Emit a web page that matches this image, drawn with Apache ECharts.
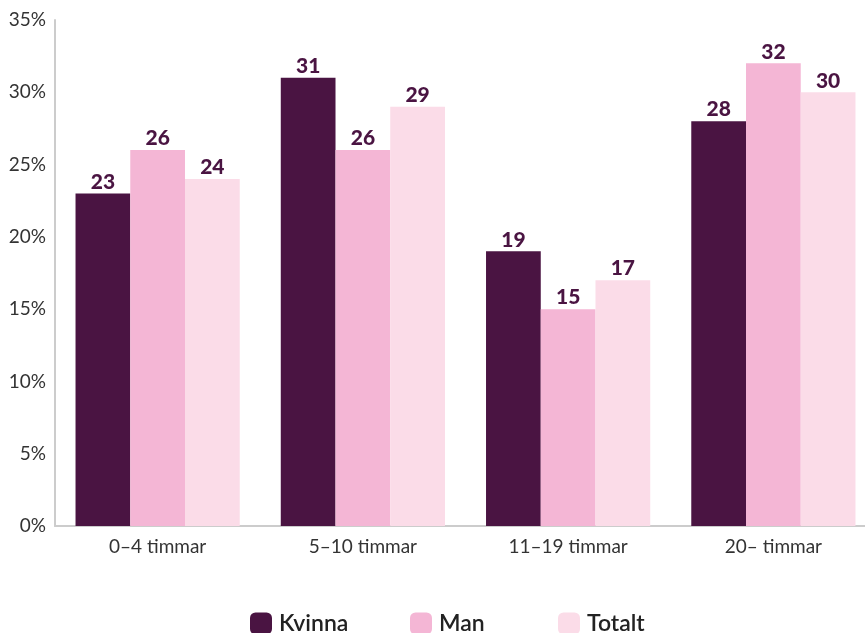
<!DOCTYPE html>
<html><head><meta charset="utf-8">
<script src="https://cdn.jsdelivr.net/npm/echarts@6/dist/echarts.min.js"></script>
<style>html,body{margin:0;padding:0;background:#fff}#c{width:865px;height:633px}</style>
</head><body><div id="c"></div>
<script>
const categories = ['0–4 timmar', '5–10 timmar', '11–19 timmar', '20– timmar'];
const kvinna = [23, 31, 19, 28];
const man = [26, 26, 15, 32];
const totalt = [24, 29, 17, 30];
const seriesNames = ['Kvinna', 'Man', 'Totalt'];
const colors = ['#4a1442', '#f4b6d5', '#fbdce8'];
const legendLefts = [245, 405, 553];
const font = 'Lato, "Open Sans", sans-serif';
const chart = echarts.init(document.getElementById('c'));
const mk = (name, data, color) => ({
  name, type: 'bar', data, barGap: '0%', barCategoryGap: '20%',
  itemStyle: { color },
  label: { show: true, position: 'top', distance: 1, color: '#4a1442', fontWeight: 900, fontSize: 21, fontFamily: font }
});
chart.setOption({
  animation: false,
  grid: { left: 55, width: 821, top: 20, bottom: 107, outerBoundsMode: 'none', containLabel: false },
  legend: seriesNames.map((n, i) => ({
    bottom: -7, left: legendLefts[i], itemWidth: 22, itemHeight: 22, icon: 'roundRect',
    textStyle: { fontSize: 23, color: '#222', fontFamily: font, fontWeight: 600, padding: [0, 0, 0, 2] },
    data: [n]
  })),
  xAxis: {
    type: 'category', data: categories,
    axisLine: { lineStyle: { color: '#cccccc', width: 2 } },
    axisTick: { show: false },
    axisLabel: { fontSize: 19, color: '#333', margin: 11, fontFamily: font }
  },
  yAxis: {
    type: 'value', min: 0, max: 35, interval: 5,
    axisLine: { show: true, lineStyle: { color: '#cccccc', width: 2 } },
    axisTick: { show: false },
    splitLine: { show: false },
    axisLabel: { formatter: '{value}%', fontSize: 19, color: '#333', margin: 9, fontFamily: font }
  },
  series: [mk(seriesNames[0], kvinna, colors[0]), mk(seriesNames[1], man, colors[1]), mk(seriesNames[2], totalt, colors[2])]
});
</script></body></html>
